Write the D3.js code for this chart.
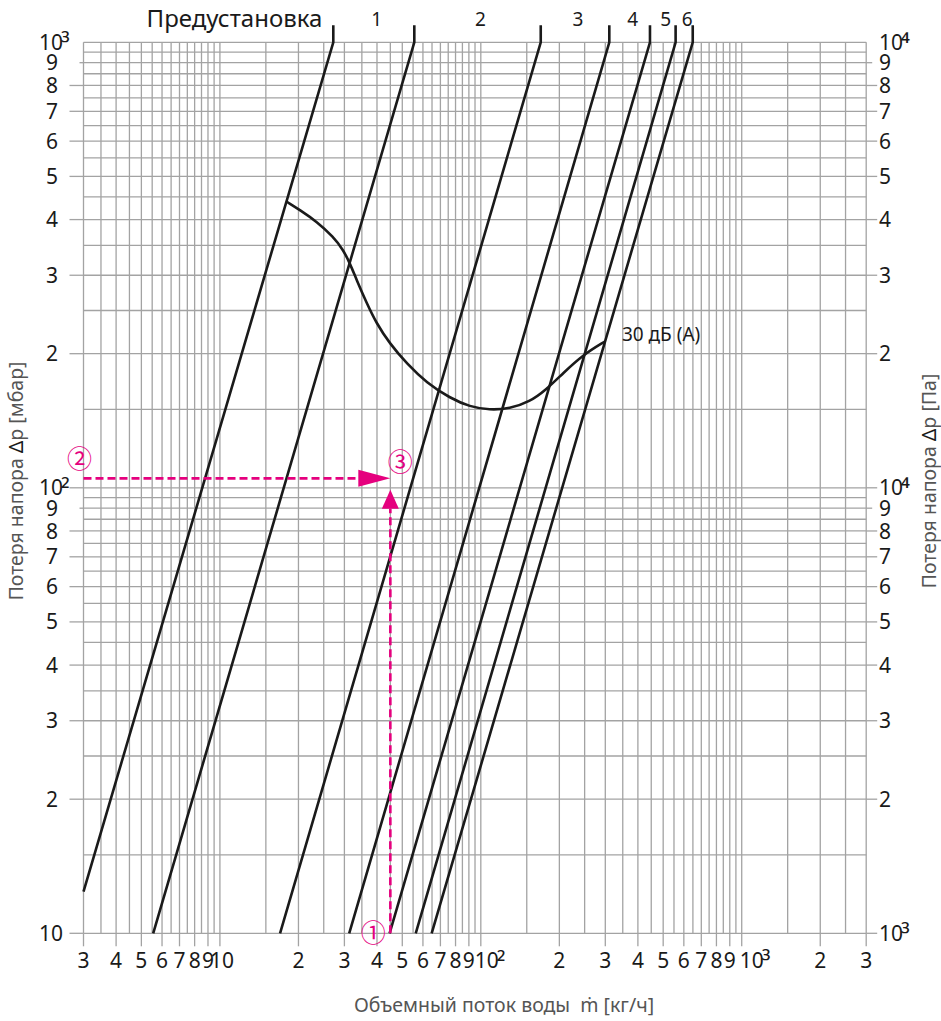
<!DOCTYPE html>
<html><head><meta charset="utf-8">
<script src="https://cdn.jsdelivr.net/npm/d3@7"></script>
<style>body{margin:0;background:#fff}svg{display:block}</style>
</head><body>
<svg id="chart" width="941" height="1021"></svg>
<script>
// ---------- data ----------
const gridMantissas = [1,1.5,2,2.5,3,3.5,4,4.5,5,5.5,6,6.5,7,7.5,8,8.5,9,9.5];
const gridDecadesX = [1,10,100,1000];
const gridDecadesY = [10,100,1000];
const xTickValues = [3,4,5,6,7,8,9,10,20,30,40,50,60,70,80,90,100,200,300,400,500,600,700,800,900,1000,2000,3000];
const xTickLabels = ["3","4","5","6","7","8","9","10","2","3","4","5","6","7","8","9","10²","2","3","4","5","6","7","8","9","10³","2","3"];
const yTickValues = [10,20,30,40,50,60,70,80,90,100,200,300,400,500,600,700,800,900,1000];
const yLeftLabels = ["10","2","3","4","5","6","7","8","9","10²","2","3","4","5","6","7","8","9","10³"];
const yRightLabels = ["10³","2","3","4","5","6","7","8","9","10⁴","2","3","4","5","6","7","8","9","10⁴"];
const presetHeader = "Предустановка";
const presetNames = ["1","2","3","4","5","6"];
const presetLowFlow = [3, 5.55, 17.0, 31.3, 44.7, 56.3, 64.8];
const presetLowDp = [12.4, 10, 10, 10, 10, 10, 10];
const presetTopFlow = [27.2, 55.6, 169.7, 310.8, 445, 558, 649];
const presetTopDp = 1000;
const noiseFlow = [18.0, 20.3, 23.5, 27.2, 29.7, 31.5, 33.4, 36.5, 39.8, 44.7, 52.0, 62.0, 76.2, 90.8, 108, 129, 154, 178, 207, 247, 299];
const noiseDp = [439, 420, 396, 366, 342, 319, 293, 260, 234, 211, 190, 172, 159, 152, 149.5, 150.5, 156, 166, 181, 199, 213];
const noiseLabel = "30 дБ (A)";
const exampleFlow = 45, exampleDp = 105, exampleArrowDp = 99;
const xTitle = "Объемный поток воды\u00A0\u00A0ṁ [кг/ч]";
const yLeftTitle = ["Потеря напора ", "Δ", "p [мбар]"];
const yRightTitle = ["Потеря напора ", "Δ", "p [Па]"];

// ---------- setup ----------
const svg = d3.select("#chart");
const L = 83.5, R = 866.2, T = 42.3, B = 933.3;
const x = d3.scaleLog().domain([3,3000]).range([L,R]);
const y = d3.scaleLog().domain([10,1000]).range([B,T]);
const gridColor = "#a3a3a3", ink = "#1a1a1a", magenta = "#e5007e";
const font = "'Noto Sans', 'Open Sans', sans-serif";

const gx = [], gy = [];
gridDecadesX.forEach(d => gridMantissas.forEach(m => { const v = +(d*m).toPrecision(6); if (v >= 3 && v <= 3000) gx.push(v); }));
gridDecadesY.forEach(d => gridMantissas.forEach(m => { const v = +(d*m).toPrecision(6); if (v >= 10 && v <= 1000) gy.push(v); }));

const grid = svg.append("g").attr("stroke", gridColor).attr("stroke-width", 1.3);
grid.selectAll("line.v").data(gx).join("line").attr("class","v")
  .attr("x1", d => x(d)).attr("x2", d => x(d)).attr("y1", T).attr("y2", B);
grid.selectAll("line.h").data(gy).join("line").attr("class","h")
  .attr("y1", d => y(d)).attr("y2", d => y(d)).attr("x1", L).attr("x2", R);

// ticks
const isNine = v => String(v)[0] === "9";
grid.selectAll("line.tl").data(yTickValues.filter(v => v < 1000)).join("line").attr("class","tl")
  .attr("y1", d => y(d)).attr("y2", d => y(d)).attr("x1", d => L - (isNine(d) ? 4 : 14)).attr("x2", L);
grid.selectAll("line.tr").data(yTickValues.filter(v => v < 1000)).join("line").attr("class","tr")
  .attr("y1", d => y(d)).attr("y2", d => y(d)).attr("x1", R).attr("x2", d => R + (isNine(d) ? 6 : 11));
grid.selectAll("line.tb").data(xTickValues).join("line").attr("class","tb")
  .attr("x1", d => x(d)).attr("x2", d => x(d)).attr("y1", B).attr("y2", B + 13);

// label helper with superscript
function supText(sel, label) {
  const m = label.match(/^(.*?)([²³⁴]?)$/);
  sel.append("tspan").text(m[1]);
  if (m[2]) sel.append("tspan").attr("font-size", 25).attr("dx", -2).attr("dy", 3).text(m[2]);
}
const tickFont = 21;
// bottom labels
xTickValues.forEach((v, i) => {
  const lab = xTickLabels[i];
  const t = svg.append("text").attr("font-family", font).attr("font-size", tickFont).attr("fill", ink)
    .attr("y", 968);
  if (lab.length > 1 && /[²³]/.test(lab)) { t.attr("x", x(v) - (lab === "10²" ? 6 : 2)).attr("text-anchor", "start"); }
  else if (lab === "10") { t.attr("x", x(v) + 2).attr("text-anchor", "middle"); }
  else { t.attr("x", x(v)).attr("text-anchor", "middle"); }
  supText(t, lab);
});
// left labels
yTickValues.forEach((v, i) => {
  const lab = yLeftLabels[i];
  const t = svg.append("text").attr("font-family", font).attr("font-size", tickFont).attr("fill", ink)
    .attr("y", y(v)).attr("dy", "0.36em");
  if (lab.startsWith("10")) t.attr("x", 39).attr("text-anchor", "start");
  else t.attr("x", 58).attr("text-anchor", "end");
  supText(t, lab);
});
// right labels
yTickValues.forEach((v, i) => {
  const lab = yRightLabels[i];
  const t = svg.append("text").attr("font-family", font).attr("font-size", tickFont).attr("fill", ink)
    .attr("y", y(v)).attr("dy", "0.36em").attr("x", 879).attr("text-anchor", "start");
  supText(t, lab);
});

// preset lines
const lines = svg.append("g").attr("stroke", ink).attr("stroke-width", 2.6).attr("fill", "none");
presetTopFlow.forEach((tf, i) => {
  const pts = [[x(presetLowFlow[i]), y(presetLowDp[i])], [x(tf), y(presetTopDp)], [x(tf), T - 17]];
  lines.append("path").attr("d", d3.line()(pts)).attr("stroke-linejoin", "miter");
});
// preset labels
svg.append("text").attr("font-family", font).attr("font-size", 24).attr("fill", ink)
  .attr("x", x(presetTopFlow[0]) - 11).attr("y", 27).attr("text-anchor", "end").text(presetHeader);
presetNames.forEach((n, i) => {
  svg.append("text").attr("font-family", font).attr("font-size", 19).attr("fill", ink)
    .attr("x", (x(presetTopFlow[i]) + x(presetTopFlow[i+1])) / 2 + 3).attr("y", 26).attr("text-anchor", "middle").text(n);
});

// noise curve
const curve = d3.line().x(d => x(d[0])).y(d => y(d[1])).curve(d3.curveBasis);
svg.append("path").attr("d", curve(noiseFlow.map((f, i) => [f, noiseDp[i]])))
  .attr("fill", "none").attr("stroke", ink).attr("stroke-width", 2.6);
svg.append("text").attr("font-family", font).attr("font-size", 19).attr("fill", ink)
  .attr("x", x(noiseFlow[noiseFlow.length-1]) + 17).attr("y", y(noiseDp[noiseDp.length-1]) - 1)
  .text(noiseLabel);

// example (magenta)
const ex = x(exampleFlow), ey = y(exampleDp), ey2 = y(exampleArrowDp);
const mg = svg.append("g");
mg.append("line").attr("x1", L).attr("x2", ex - 32).attr("y1", ey).attr("y2", ey)
  .attr("stroke", magenta).attr("stroke-width", 2.6).attr("stroke-dasharray", "8,4");
mg.append("path").attr("d", `M${ex},${ey} L${ex-32},${ey-8.5} L${ex-32},${ey+8.5} Z`).attr("fill", magenta);
mg.append("line").attr("x1", ex).attr("x2", ex).attr("y1", B).attr("y2", ey2 + 19)
  .attr("stroke", magenta).attr("stroke-width", 2.6).attr("stroke-dasharray", "8,4");
mg.append("path").attr("d", `M${ex},${ey2} L${ex-8.5},${ey2+19} L${ex+8.5},${ey2+19} Z`).attr("fill", magenta);
const circ = [["①", ex - 17, B], ["②", L - 4, ey - 19], ["③", ex + 10, ey - 16]];
circ.forEach(c => {
  svg.append("text").attr("font-family", "'Noto Sans CJK JP', 'DejaVu Sans', sans-serif").attr("font-size", 25)
    .attr("fill", magenta).attr("x", c[1]).attr("y", c[2]).attr("dy", "0.36em").attr("text-anchor", "middle").text(c[0]);
});

// axis titles
const titleColor = "#555";
svg.append("text").attr("font-family", font).attr("font-size", 19.5).attr("fill", titleColor)
  .attr("x", 504).attr("y", 1012).attr("text-anchor", "middle").text(xTitle);
function vtitle(parts, cx) {
  const t = svg.append("text").attr("font-family", font).attr("font-size", 19.5).attr("fill", titleColor)
    .attr("text-anchor", "middle").attr("transform", `translate(${cx},481) rotate(-90)`);
  t.append("tspan").text(parts[0]);
  t.append("tspan").attr("fill", ink).text(parts[1]);
  t.append("tspan").text(parts[2]);
}
vtitle(yLeftTitle, 23);
vtitle(yRightTitle, 936);
</script>
</body></html>
